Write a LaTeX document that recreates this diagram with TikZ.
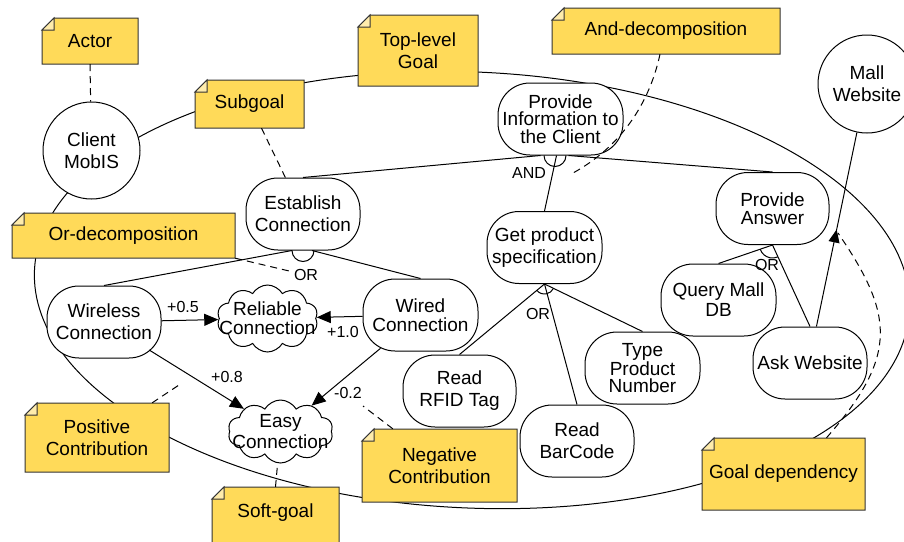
\documentclass[tikz,border=0pt]{standalone}
\usepackage{fontspec}
\setmainfont{Liberation Sans}
\usetikzlibrary{shapes.symbols,arrows.meta,decorations.markings,calc}
\definecolor{noteyellow}{RGB}{255,218,89}
\newcommand{\drawnote}[7]{%
  \filldraw[notebg] ({#2+12},#3) -- (#4,#3) -- (#4,#6) -- (#2,#6) -- (#2,{#3+12}) -- cycle;
  \filldraw[notefold] ({#2+12},#3) -- ({#2+12},{#3+12}) -- (#2,{#3+12}) -- cycle;
  \node[notetext, minimum width={(#4-#2)*1pt}, minimum height={(#5-#3)*1pt}] (#1) at ({(#2+#4)/2},{(#3+#5)/2}) {#7};
}
\tikzset{
  link/.style={line width=1pt},
  goal/.style={rectangle, rounded corners=32pt, draw, fill=white, line width=1pt, minimum width=114pt, minimum height=72pt, inner sep=0pt},
  actor/.style={circle, draw, fill=white, line width=1pt, inner sep=0pt},
  soft/.style={cloud, cloud puffs=10, cloud puff arc=120, cloud ignores aspect, draw, fill=white, line width=1pt, inner sep=0pt},
  notebg/.style={fill=noteyellow, draw=black!80, line width=1pt},
  notefold/.style={fill=noteyellow!50!white, draw=black!80, line width=1pt},
  notetext/.style={inner sep=0pt},
  contrib/.style={line width=1pt, -{Triangle[length=14pt,width=12pt]}},
  notelink/.style={line width=1pt, dash pattern=on 7pt off 5pt},
  lbl/.style={font=\fontsize{16}{18}\selectfont, inner sep=1pt},
  lead/.style={font=\fontsize{19}{#1}\selectfont}
}
\begin{document}
\begin{tikzpicture}[x=1pt,y=-1pt, every node/.style={font=\fontsize{19}{22}\selectfont, align=center}]
\useasboundingbox (0,0) rectangle (904,541);
% actor boundary
\draw[link, rotate around={-2.6:(472,290)}] (472,290) ellipse [x radius=438pt, y radius=218pt];
% notes
\drawnote{actornote}{42}{18}{138}{64}{64}{Actor}
\drawnote{topnote}{358}{15}{478}{86}{86}{Top-level\\Goal}
\drawnote{subnote}{195}{80}{304}{128}{128}{Subgoal}
\drawnote{ornote}{12}{213}{235}{258}{258}{Or-decomposition}
\drawnote{andnote}{552}{8}{780}{54}{54}{And-decomposition}
\drawnote{posnote}{25}{403}{169}{472}{472}{Positive\\Contribution}
\drawnote{softnote}{212}{487}{339}{539}{548}{Soft-goal}
\drawnote{negnote}{362}{429}{517}{502}{502}{Negative\\Contribution}
\drawnote{gdnote}{702}{438}{865}{510}{510}{Goal dependency}
% actors
\node[actor, minimum size=97pt] (client) at (91.5,150.5) {Client\\MobIS};
\node[actor, minimum size=98pt] (mall) at (867,84) {Mall\\Website};
% goals
\node[goal, minimum width=125pt, lead=17.5] (pinfo) at (560.5,119) {Provide\\Information to\\the Client};
\node[goal] (est) at (303,214) {Establish\\Connection};
\node[goal, minimum width=115pt] (gps) at (544.5,247.5) {Get product\\specification};
\node[goal, minimum width=113pt, lead=17.5] (pa) at (772.5,208.5) {Provide\\Answer};
\node[goal] (wl) at (104,322) {Wireless\\Connection};
\node[goal, minimum width=115pt, lead=19] (wd) at (420.5,315) {Wired\\Connection};
\node[goal, minimum width=113pt] (rfid) at (459.5,391) {Read\\RFID Tag};
\node[goal] (bc) at (577,441) {Read\\BarCode};
\node[goal, minimum width=115pt, lead=17.5] (tpn) at (642.5,368) {Type\\Product\\Number};
\node[goal, minimum width=115pt, lead=20] (qm) at (718.5,300) {Query Mall\\DB};
\node[goal] (ask) at (810,363) {Ask Website};
% soft goals
\node[soft, minimum width=101pt, minimum height=67pt] (rel) at (267.5,318.5) {};
\node[lead=19] (reltxt) at (rel.center) {Reliable\\Connection};
\node[soft, minimum width=105pt, minimum height=63pt] (easy) at (280.5,431.5) {};
\node[lead=21] (easytxt) at (easy.center) {Easy\\Connection};
% labels
\node[lbl] (l05) at (183,307) {+0.5};
\node[lbl] (l10) at (343,332) {+1.0};
\node[lbl] (l08) at (227,377) {+0.8};
\node[lbl] (l02) at (348,393) {-0.2};
\node[lbl] (or1) at (306,275) {OR};
\node[lbl] (and1) at (529,173) {AND};
\node[lbl] (or2) at (538,314) {OR};
\node[lbl] (or3) at (767,265) {OR};
% AND decomposition
\draw[link] (est.north) -- ([xshift=-20pt]pinfo.south);
\draw[link] (gps.north) -- ([xshift=-4pt]pinfo.south);
\draw[link] (pa.north) -- ([xshift=8pt]pinfo.south);
\draw[link] ([xshift=-16.5pt]pinfo.south) arc[start angle=180, end angle=0, radius=11];
% OR decompositions
\draw[link] (wl.north) -- ([xshift=-11pt]est.south);
\draw[link] (wd.north) -- ([xshift=9pt]est.south);
\draw[link] ([xshift=-11pt]est.south) arc[start angle=180, end angle=0, radius=11];
\draw[link] (gps.south) -- (rfid.north);
\draw[link] (gps.south) -- (bc.north);
\draw[link] (gps.south) -- (tpn.north);
\draw[link] (gps.south) ++(140:10) arc[start angle=140, end angle=26, radius=10];
\draw[link] (pa.south) -- (qm.north);
\draw[link] (pa.south) -- (ask.north);
\draw[link] (pa.south) ++(161:13) arc[start angle=161, end angle=66, radius=13];
% contributions
\draw[contrib] (wl) -- (rel);
\draw[contrib] (wd) -- (rel);
\draw[contrib, shorten <=-14.5pt] (wl) -- (easy);
\draw[contrib, shorten <=-5pt] (wd) -- (easy);
% dependency
\draw[link, postaction=decorate, decoration={markings, mark=at position 0.5 with {\arrow{Triangle[length=13pt,width=11pt]}}}] (ask.80) -- (mall);
% note links
\coordinate (andpt) at (573,173);
\coordinate (pospt) at (182,383);
\coordinate (negpt) at (363,406);
\coordinate (deppt) at (838,233);
\draw[notelink] (actornote.south) -- (client);
\draw[notelink] ([xshift=12pt]subnote.south) -- (est);
\draw[notelink] (ornote.south east) -- (or1);
\draw[notelink] ([xshift=-6pt]andnote.south) .. controls (648,110) and (615,150) .. (andpt);
\draw[notelink] ([xshift=-17pt]posnote.north east) -- (pospt);
\draw[notelink] ([xshift=31pt]negnote.north west) -- (negpt);
\draw[notelink] (softnote.north) -- (easy);
\draw[notelink] ([xshift=43pt]gdnote.north) .. controls (898.6,355.5) and (894,315) .. (deppt);
\end{tikzpicture}
\end{document}
